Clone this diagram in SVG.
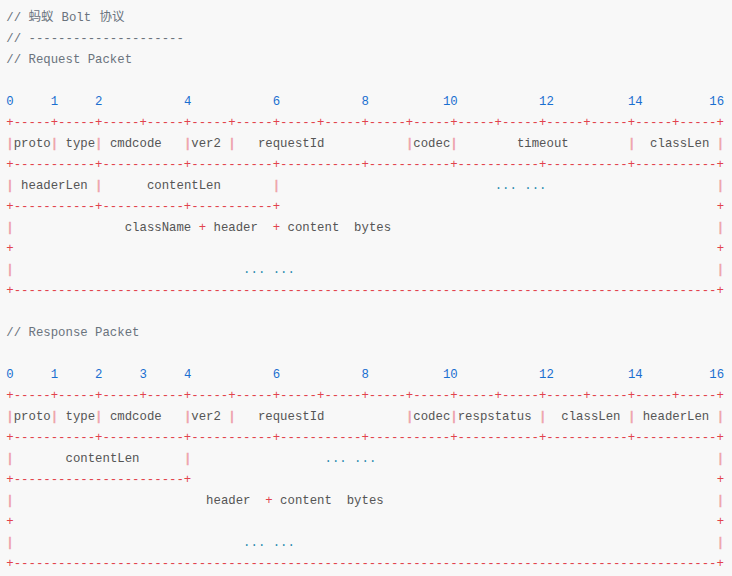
<svg xmlns="http://www.w3.org/2000/svg" width="732" height="576" viewBox="0 0 732 576">
<style>
text{font-family:"Liberation Mono","DejaVu Sans Mono",monospace;font-size:12.33px;white-space:pre}
.c{fill:#6a737d}
.cj{font-family:"Noto Sans CJK SC","Noto Sans",sans-serif;font-size:12.5px;fill:#6a737d}
.n{fill:#1a6fd0}
.p{fill:#e2434d}
.b{fill:#eea3ab;stroke:#eea3ab;stroke-width:0.7px}
.t{fill:#555555}
.d{fill:#2b8cb0}
</style>
<rect width="732" height="576" fill="#f8f8f8"/>
<g id="header">
<text class="c" x="6.3" y="21">//</text>
<text class="cj" x="28.5" y="21">蚂蚁</text>
<text class="c" x="61.5" y="21">Bolt</text>
<text class="cj" x="99.5" y="21">协议</text>
<text class="c" x="6.3" y="42">// ---------------------</text>
<text class="c" x="6.3" y="63">// Request Packet</text>
</g>
<g id="request">
<g class="n">
<text x="6.3" y="105">0</text><text x="50.7" y="105">1</text><text x="95.1" y="105">2</text><text x="183.9" y="105">4</text><text x="272.7" y="105">6</text><text x="361.5" y="105">8</text><text x="442.9" y="105">10</text><text x="539.1" y="105">12</text><text x="627.9" y="105">14</text><text x="709.3" y="105">16</text>
</g>
<text class="p" x="6.3" y="126">+-----+-----+-----+-----+-----+-----+-----+-----+-----+-----+-----+-----+-----+-----+-----+-----+</text>
<g class="b">
<text x="6.3" y="147">|</text><text x="50.7" y="147">|</text><text x="95.1" y="147">|</text><text x="183.9" y="147">|</text><text x="228.3" y="147">|</text><text x="405.9" y="147">|</text><text x="450.3" y="147">|</text><text x="627.9" y="147">|</text><text x="716.7" y="147">|</text>
</g>
<g class="t">
<text x="13.7" y="147">proto</text><text x="65.5" y="147">type</text><text x="109.9" y="147">cmdcode</text><text x="191.3" y="147">ver2</text><text x="257.9" y="147">requestId</text><text x="413.3" y="147">codec</text><text x="516.9" y="147">timeout</text><text x="650.1" y="147">classLen</text>
</g>
<text class="p" x="6.3" y="168">+-----------+-----------+-----------+-----------+-----------+-----------+-----------+-----------+</text>
<g class="b">
<text x="6.3" y="189">|</text><text x="95.1" y="189">|</text><text x="272.7" y="189">|</text><text x="716.7" y="189">|</text>
</g>
<text class="t" x="21.1" y="189">headerLen</text>
<text class="t" x="146.9" y="189">contentLen</text>
<text class="d" x="494.7" y="189">... ...</text>
<text class="p" x="6.3" y="210">+-----------+-----------+-----------+</text>
<text class="p" x="716.7" y="210">+</text>
<text class="b" x="6.3" y="231">|</text>
<text class="t" x="124.7" y="231">className</text>
<text class="p" x="198.7" y="231">+</text>
<text class="t" x="213.5" y="231">header</text>
<text class="p" x="272.7" y="231">+</text>
<text class="t" x="287.5" y="231">content</text>
<text class="t" x="354.1" y="231">bytes</text>
<text class="b" x="716.7" y="231">|</text>
<text class="p" x="6.3" y="252">+</text>
<text class="p" x="716.7" y="252">+</text>
<text class="b" x="6.3" y="273">|</text>
<text class="d" x="243.1" y="273">... ...</text>
<text class="b" x="716.7" y="273">|</text>
<text class="p" x="6.3" y="294">+-----------------------------------------------------------------------------------------------+</text>
</g>
<text class="c" x="6.3" y="336">// Response Packet</text>
<g id="response">
<g class="n">
<text x="6.3" y="378">0</text><text x="50.7" y="378">1</text><text x="95.1" y="378">2</text><text x="139.5" y="378">3</text><text x="183.9" y="378">4</text><text x="272.7" y="378">6</text><text x="361.5" y="378">8</text><text x="442.9" y="378">10</text><text x="539.1" y="378">12</text><text x="627.9" y="378">14</text><text x="709.3" y="378">16</text>
</g>
<text class="p" x="6.3" y="399">+-----+-----+-----+-----+-----+-----+-----+-----+-----+-----+-----+-----+-----+-----+-----+-----+</text>
<g class="b">
<text x="6.3" y="420">|</text><text x="50.7" y="420">|</text><text x="95.1" y="420">|</text><text x="183.9" y="420">|</text><text x="228.3" y="420">|</text><text x="405.9" y="420">|</text><text x="450.3" y="420">|</text><text x="539.1" y="420">|</text><text x="627.9" y="420">|</text><text x="716.7" y="420">|</text>
</g>
<g class="t">
<text x="13.7" y="420">proto</text><text x="65.5" y="420">type</text><text x="109.9" y="420">cmdcode</text><text x="191.3" y="420">ver2</text><text x="257.9" y="420">requestId</text><text x="413.3" y="420">codec</text><text x="457.7" y="420">respstatus</text><text x="561.3" y="420">classLen</text><text x="642.7" y="420">headerLen</text>
</g>
<text class="p" x="6.3" y="441">+-----------+-----------+-----------+-----------+-----------+-----------+-----------+-----------+</text>
<g class="b">
<text x="6.3" y="462">|</text><text x="183.9" y="462">|</text><text x="716.7" y="462">|</text>
</g>
<text class="t" x="65.5" y="462">contentLen</text>
<text class="d" x="324.5" y="462">... ...</text>
<text class="p" x="6.3" y="483">+-----------------------+</text>
<text class="p" x="716.7" y="483">+</text>
<text class="b" x="6.3" y="504">|</text>
<text class="t" x="206.1" y="504">header</text>
<text class="p" x="265.3" y="504">+</text>
<text class="t" x="280.1" y="504">content</text>
<text class="t" x="346.7" y="504">bytes</text>
<text class="b" x="716.7" y="504">|</text>
<text class="p" x="6.3" y="525">+</text>
<text class="p" x="716.7" y="525">+</text>
<text class="b" x="6.3" y="546">|</text>
<text class="d" x="243.1" y="546">... ...</text>
<text class="b" x="716.7" y="546">|</text>
<text class="p" x="6.3" y="567">+-----------------------------------------------------------------------------------------------+</text>
</g>
</svg>
